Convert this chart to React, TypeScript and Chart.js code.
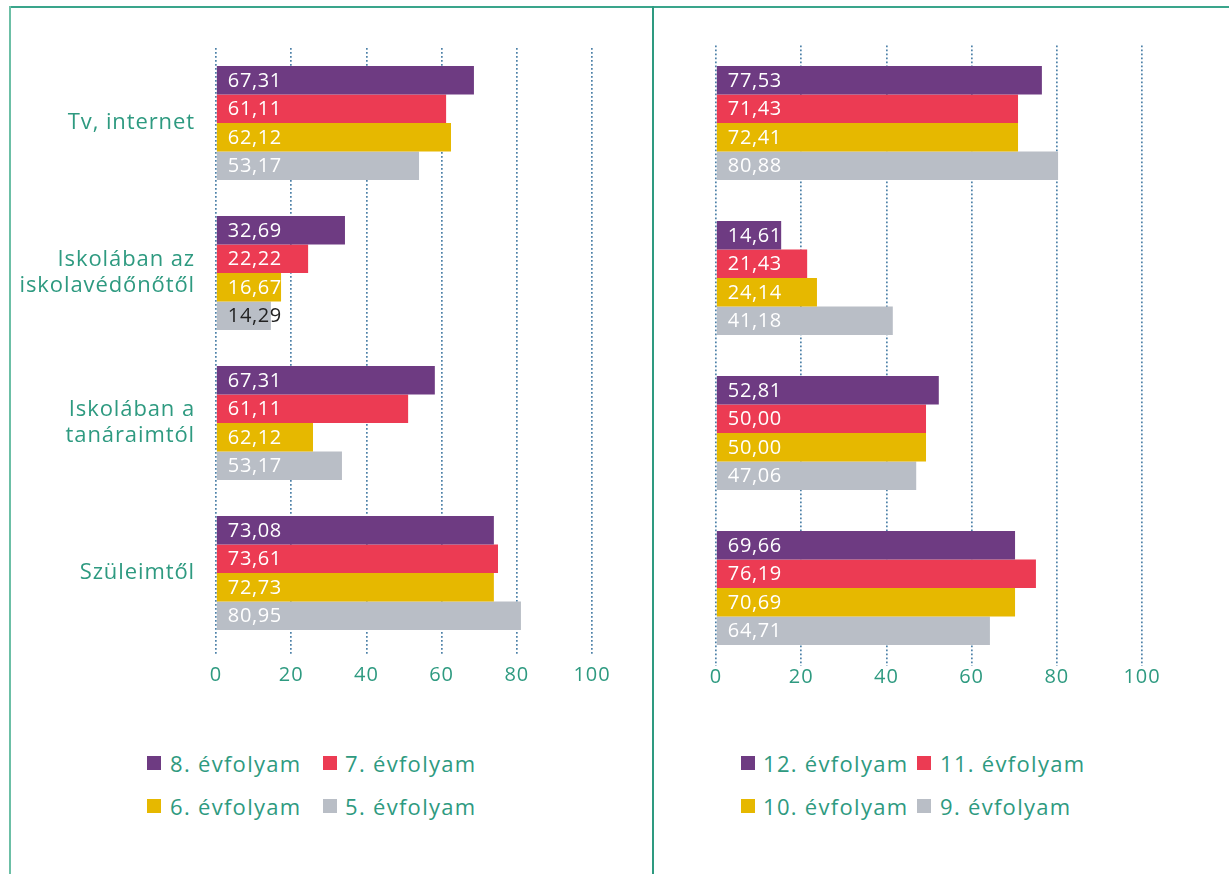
import React, { useEffect, useRef } from "react";
import { Chart, registerables } from "chart.js";

Chart.register(...registerables);

// ---------- data ----------
const categories: string[][] = [
  ["Tv, internet"],
  ["Iskolában az", "iskolavédőnőtől"],
  ["Iskolában a", "tanáraimtól"],
  ["Szüleimtől"],
];
const xTickMin = 0;
const xTickMax = 100;
const xTickStep = 20;

const leftSeriesNames = ["8. évfolyam", "7. évfolyam", "6. évfolyam", "5. évfolyam"];
const rightSeriesNames = ["12. évfolyam", "11. évfolyam", "10. évfolyam", "9. évfolyam"];

// bar lengths
const grade8 = [68.6, 34.3, 58.2, 73.9];
const grade7 = [61.2, 24.5, 51.1, 75.0];
const grade6 = [62.5, 17.3, 25.8, 73.9];
const grade5 = [54.0, 14.6, 33.5, 81.1];
// printed labels (as shown in the picture)
const grade8Labels = ["67,31", "32,69", "67,31", "73,08"];
const grade7Labels = ["61,11", "22,22", "61,11", "73,61"];
const grade6Labels = ["62,12", "16,67", "62,12", "72,73"];
const grade5Labels = ["53,17", "14,29", "53,17", "80,95"];

const grade12 = [76.5, 15.3, 52.3, 70.2];
const grade11 = [70.9, 21.4, 49.3, 75.1];
const grade10 = [70.9, 23.7, 49.3, 70.2];
const grade9 = [80.3, 41.5, 47.0, 64.3];
const grade12Labels = ["77,53", "14,61", "52,81", "69,66"];
const grade11Labels = ["71,43", "21,43", "50,00", "76,19"];
const grade10Labels = ["72,41", "24,14", "50,00", "70,69"];
const grade9Labels = ["80,88", "41,18", "47,06", "64,71"];

// ---------- styles ----------
const COLORS = ["#6e3b82", "#ec3b53", "#e6b800", "#b9bec6"];
const TEAL = "#2e9a80";
const GRID = "#4d81a8";
const FONT = '"Open Sans", "DejaVu Sans", sans-serif';

const spacingPlugin = {
  id: "textSpacing",
  beforeDraw(chart: any) {
    (chart.ctx as any).letterSpacing = "0.9px";
  },
};

function makeLabelPlugin(texts: string[][]) {
  return {
    id: "barLabels",
    afterDatasetsDraw(chart: any) {
      const ctx = chart.ctx as CanvasRenderingContext2D;
      ctx.save();
      (ctx as any).letterSpacing = "0.6px";
      ctx.font = `400 20px ${FONT}`;
      ctx.textBaseline = "middle";
      ctx.textAlign = "left";
      chart.data.datasets.forEach((_ds: any, di: number) => {
        const meta = chart.getDatasetMeta(di);
        meta.data.forEach((bar: any, i: number) => {
          const { x, y, base } = bar.getProps(["x", "y", "base"], true);
          const t = texts[di][i];
          const w = ctx.measureText(t).width;
          ctx.fillStyle = w + 12 > x - base + 2 ? "#222222" : "#ffffff";
          ctx.fillText(t, base + 11, y + 1);
        });
      });
      ctx.restore();
    },
  };
}

function buildConfig(
  names: string[],
  series: number[][],
  texts: string[][],
  opts: {
    showCats: boolean;
    yWidth: number;
    xHeight: number;
    padTop: number;
    padRight: number;
    catPct: number;
    drawTicks: boolean;
    tickPad: number;
  }
): any {
  return {
    type: "bar",
    data: {
      labels: categories,
      datasets: series.map((d, i) => ({
        label: names[i],
        data: d,
        backgroundColor: COLORS[i],
        borderWidth: 0,
        categoryPercentage: opts.catPct,
        barPercentage: 1.0,
      })),
    },
    options: {
      indexAxis: "y",
      animation: false,
      responsive: false,
      maintainAspectRatio: false,
      layout: { padding: { top: opts.padTop, right: opts.padRight, left: 0, bottom: 0 } },
      plugins: {
        legend: { display: false },
        tooltip: { enabled: false },
      },
      scales: {
        x: {
          type: "linear",
          min: xTickMin,
          max: xTickMax,
          afterFit: (s: any) => {
            s.height = opts.xHeight;
          },
          ticks: {
            stepSize: xTickStep,
            color: TEAL,
            font: { family: FONT, size: 20 },
            padding: opts.tickPad,
            maxRotation: 0,
          },
          grid: {
            color: GRID,
            lineWidth: 1.7,
            drawTicks: opts.drawTicks,
            tickLength: 7,
            tickColor: GRID,
            tickWidth: 1.7,
            tickBorderDash: [1.7, 2.3],
          },
          border: { display: false, dash: [1.7, 2.3] },
        },
        y: {
          type: "category",
          afterFit: (s: any) => {
            s.width = opts.yWidth;
          },
          ticks: {
            display: opts.showCats,
            color: TEAL,
            font: { family: FONT, size: 22, lineHeight: 1.2 },
            padding: 21,
            crossAlign: "near",
          },
          grid: { display: false, drawTicks: false, tickLength: 0 },
          border: { display: false },
        },
      },
    },
    plugins: [spacingPlugin, makeLabelPlugin(texts)],
  };
}

function BarPanel(props: {
  left: number;
  width: number;
  height: number;
  config: any;
}) {
  const ref = useRef<HTMLCanvasElement | null>(null);
  useEffect(() => {
    if (!ref.current) return;
    const chart = new Chart(ref.current, props.config);
    return () => chart.destroy();
  }, []);
  return (
    <canvas
      ref={ref}
      width={props.width}
      height={props.height}
      style={{
        position: "absolute",
        left: props.left,
        top: 0,
        width: props.width,
        height: props.height,
      }}
    />
  );
}

function LegendItem(props: { left: number; textLeft: number; top: number; color: string; text: string }) {
  return (
    <>
      <div
        style={{
          position: "absolute",
          left: props.left,
          top: props.top - 7,
          width: 14,
          height: 14,
          background: props.color,
        }}
      />
      <div
        style={{
          position: "absolute",
          left: props.textLeft,
          top: props.top - 15,
          height: 30,
          lineHeight: "30px",
          fontFamily: FONT,
          fontSize: 22,
          letterSpacing: "1.3px",
          color: TEAL,
          whiteSpace: "nowrap",
        }}
      >
        {props.text}
      </div>
    </>
  );
}

export default function App() {
  const leftConfig = buildConfig(
    leftSeriesNames,
    [grade8, grade7, grade6, grade5],
    [grade8Labels, grade7Labels, grade6Labels, grade5Labels],
    {
      showCats: true,
      yWidth: 206,
      xHeight: 52,
      padTop: 48,
      padRight: 60,
      catPct: 0.76,
      drawTicks: true,
      tickPad: 8,
    }
  );
  const rightConfig = buildConfig(
    rightSeriesNames,
    [grade12, grade11, grade10, grade9],
    [grade12Labels, grade11Labels, grade10Labels, grade9Labels],
    {
      showCats: false,
      yWidth: 62,
      xHeight: 54.5,
      padTop: 45.5,
      padRight: 87,
      catPct: 0.735,
      drawTicks: false,
      tickPad: 0,
    }
  );

  const row1 = 763;
  const row2 = 806;

  return (
    <div
      style={{
        position: "absolute",
        left: 0,
        top: 0,
        width: 1229,
        height: 874,
        overflow: "hidden",
        background: "#ffffff",
      }}
    >
      {/* frame lines */}
      <div style={{ position: "absolute", left: 9, top: 6, width: 1220, height: 2, background: "#3aa58b" }} />
      <div style={{ position: "absolute", left: 9, top: 6, width: 2, height: 868, background: "#6cbfa6" }} />
      <div style={{ position: "absolute", left: 652, top: 6, width: 2, height: 868, background: "#2e9a80" }} />

      <BarPanel left={10} width={642} height={700} config={leftConfig} />
      <BarPanel left={654} width={575} height={720} config={rightConfig} />

      <LegendItem left={147} textLeft={170} top={row1} color={COLORS[0]} text={leftSeriesNames[0]} />
      <LegendItem left={323} textLeft={345} top={row1} color={COLORS[1]} text={leftSeriesNames[1]} />
      <LegendItem left={147} textLeft={170} top={row2} color={COLORS[2]} text={leftSeriesNames[2]} />
      <LegendItem left={323} textLeft={345} top={row2} color={COLORS[3]} text={leftSeriesNames[3]} />

      <LegendItem left={741} textLeft={763} top={row1} color={COLORS[0]} text={rightSeriesNames[0]} />
      <LegendItem left={917} textLeft={940} top={row1} color={COLORS[1]} text={rightSeriesNames[1]} />
      <LegendItem left={741} textLeft={763} top={row2} color={COLORS[2]} text={rightSeriesNames[2]} />
      <LegendItem left={917} textLeft={940} top={row2} color={COLORS[3]} text={rightSeriesNames[3]} />
    </div>
  );
}
